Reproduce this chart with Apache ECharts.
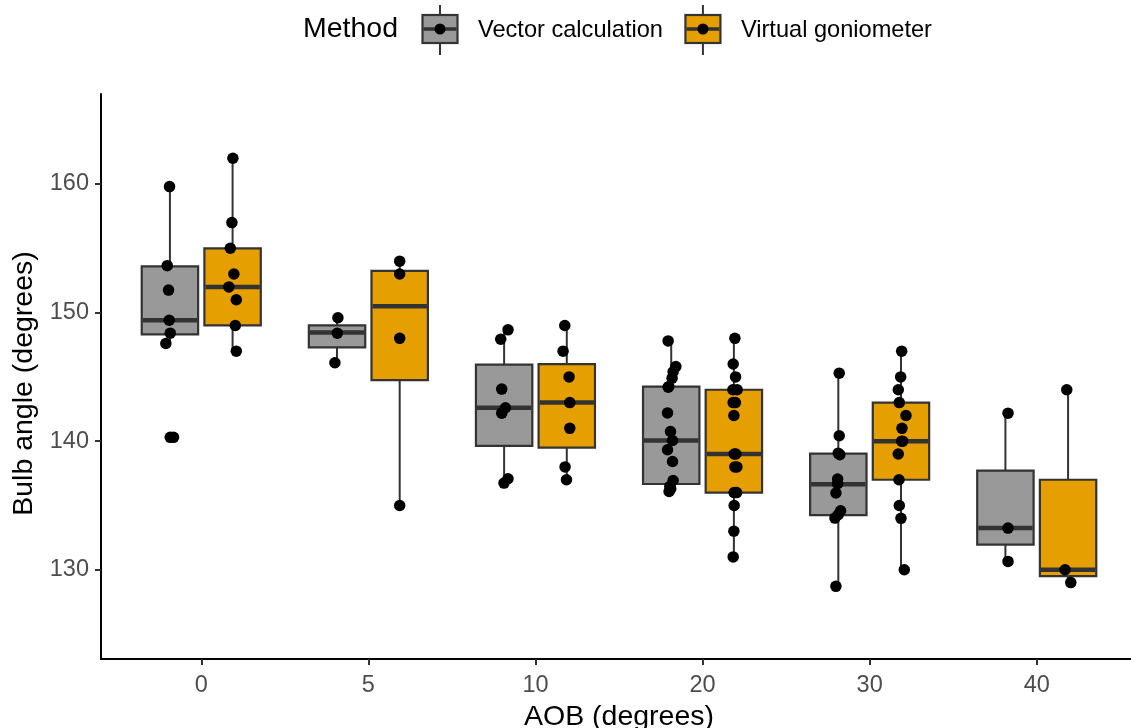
<!DOCTYPE html>
<html>
<head>
<meta charset="utf-8">
<script src="https://cdn.jsdelivr.net/npm/echarts@6/dist/echarts.min.js"></script>
<style>
  html, body { margin: 0; padding: 0; background: #fff; }
  #chart { width: 1131px; height: 728px; }
</style>
</head>
<body>
<div id="chart"></div>
<script>
var aobLabels = ['0', '5', '10', '20', '30', '40'];
var methods = ['Vector calculation', 'Virtual goniometer'];
var methodColors = ['#999999', '#E69F00'];
var yTicks = [130, 140, 150, 160];

// box stats per AOB group: [lower whisker, Q1, median, Q3, upper whisker]
var vectorBoxes = [
  [147.6, 148.3, 149.4, 153.6, 159.8],
  [146.1, 147.3, 148.45, 149.0, 149.6],
  [136.74, 139.64, 142.6, 145.96, 148.66],
  [136.09, 136.67, 140.05, 144.25, 147.8],
  [128.71, 134.25, 136.65, 139.03, 145.29],
  [130.65, 131.95, 133.24, 137.71, 142.18]
];
var virtualBoxes = [
  [147, 149, 152, 155, 162],
  [135, 144.75, 150.5, 153.25, 154],
  [137, 139.5, 143, 146, 149],
  [131, 136, 139, 144, 148],
  [130, 137, 140, 143, 147],
  [129, 129.5, 130, 137, 144]
];

// measured angles per AOB group
var vectorPoints = [
  [159.8, 153.65, 151.75, 149.4, 148.4, 147.6, 140.3, 140.3],
  [149.6, 148.4, 146.1],
  [148.66, 147.93, 144.05, 142.6, 142.18, 137.08, 136.74],
  [147.8, 145.8, 145.4, 144.9, 144.25, 144.2, 142.2, 140.75, 140.05, 139.33, 138.42, 136.94, 136.48, 136.3, 136.09],
  [145.29, 140.42, 139.07, 138.95, 137.05, 136.69, 135.97, 134.59, 134.28, 134.02, 128.71],
  [142.18, 133.24, 130.65]
];
var virtualPoints = [
  [162, 157, 155, 153, 152, 151, 149, 147],
  [154, 153, 148, 135],
  [149, 147, 145, 143, 141, 138, 137],
  [148, 146, 145, 144, 144, 143, 143, 142, 139, 139, 138, 138, 136, 136, 135, 133, 131],
  [147, 145, 144, 143, 142, 141, 140, 140, 139, 137, 135, 134, 130],
  [144, 130, 129]
];
// horizontal jitter of each point as seen (pixels)
var vectorJitter = [
  [-0.4, -2.7, -1.4, -0.7, 0.3, -4.1, 0.3, 3.6],
  [0.9, 0.3, -2.1],
  [3.9, -3.4, -2.4, 1.3, -2.4, 3.9, -0.1],
  [-3.1, 4.6, 1.9, 0.9, -2.4, -3.0, -3.7, -0.7, 1.3, -3.7, 1.3, 1.9, -1.4, -0.5, -2.1],
  [0.9, 0.9, -0.1, 1.5, -0.7, -0.7, -2.4, 2.3, -0.1, -3.4, -2.4],
  [2.6, 2.6, 2.6]
];
var virtualJitter = [
  [0.3, -0.7, -2.3, 1.3, -3.7, 3.7, 2.7, 3.7],
  [0, 0, 0, 0],
  [-2, -3.7, 2.3, 3, 3, -1.7, -0.3],
  [1, -0.7, 1.7, 3.3, -1, -0.7, 1.5, 0, 0.3, 2, 1, 3, 2.7, 0.3, 0.3, 0, -0.7],
  [0.7, -0.3, -2.7, -1.7, 5, 1, 0.7, 1.7, -2.7, -2, -1.7, 0, 3.3],
  [-1.3, -3, 2.7]
];

var dodge = 0.1875;      // box centre offset from group centre
var boxWidth = 0.3375;
var pxPerUnit = 167;
var offsets = [-dodge, dodge];

function boxData(boxes, m) {
  var out = [];
  for (var i = 0; i < boxes.length; i++) {
    out.push([i + offsets[m]].concat(boxes[i]).concat([m]));
  }
  return out;
}

function pointData(points, jitter, m) {
  var out = [];
  for (var i = 0; i < points.length; i++) {
    for (var j = 0; j < points[i].length; j++) {
      out.push([i + offsets[m] + jitter[i][j] / pxPerUnit, points[i][j]]);
    }
  }
  return out;
}

function renderBox(params, api) {
  var x = api.value(0);
  var lo = api.coord([x, api.value(1)]);
  var q1 = api.coord([x, api.value(2)]);
  var md = api.coord([x, api.value(3)]);
  var q3 = api.coord([x, api.value(4)]);
  var hi = api.coord([x, api.value(5)]);
  var half = api.size([boxWidth, 0])[0] / 2;
  var fill = methodColors[api.value(6)];
  var stroke = { stroke: '#333333', lineWidth: 2 };
  return {
    type: 'group',
    children: [
      { type: 'line', shape: { x1: hi[0], y1: hi[1], x2: q3[0], y2: q3[1] }, style: stroke },
      { type: 'line', shape: { x1: q1[0], y1: q1[1], x2: lo[0], y2: lo[1] }, style: stroke },
      { type: 'rect', shape: { x: q3[0] - half, y: q3[1], width: half * 2, height: q1[1] - q3[1] },
        style: { fill: fill, stroke: '#333333', lineWidth: 2.2 } },
      { type: 'line', shape: { x1: md[0] - half + 1, y1: md[1], x2: md[0] + half - 1, y2: md[1] },
        style: { stroke: '#333333', lineWidth: 4.5 } }
    ]
  };
}

function keyIcon(fill) {
  var svg = '<svg xmlns="http://www.w3.org/2000/svg" width="52" height="50" viewBox="0 0 52 50">' +
    '<line x1="19" y1="0" x2="19" y2="10" stroke="#333" stroke-width="2"/>' +
    '<line x1="19" y1="38" x2="19" y2="50" stroke="#333" stroke-width="2"/>' +
    '<rect x="1.5" y="10" width="35" height="28" fill="' + fill + '" stroke="#333" stroke-width="2.2"/>' +
    '<line x1="2.5" y1="24" x2="35.5" y2="24" stroke="#333" stroke-width="3.5"/>' +
    '<circle cx="19" cy="24" r="5.5" fill="#000"/>' +
    '</svg>';
  return 'image://data:image/svg+xml;charset=utf-8,' + encodeURIComponent(svg);
}

var font = '"Liberation Sans", Arial, Helvetica, sans-serif';
var chart = echarts.init(document.getElementById('chart'), null, { renderer: 'canvas' });

chart.setOption({
  animation: false,
  backgroundColor: '#ffffff',
  textStyle: { fontFamily: font },
  title: {
    text: 'Method',
    left: 298,
    top: 10,
    textStyle: { fontSize: 28.5, fontWeight: 'normal', color: '#000', fontFamily: font }
  },
  legend: {
    left: 416,
    top: 0,
    itemWidth: 52,
    itemHeight: 50,
    itemGap: 21,
    selectedMode: false,
    textStyle: { fontSize: 23.6, color: '#000', fontFamily: font },
    data: [
      { name: methods[0], icon: keyIcon(methodColors[0]) },
      { name: methods[1], icon: keyIcon(methodColors[1]) }
    ]
  },
  grid: { left: 101, right: -6, top: 94, bottom: 69, outerBoundsMode: 'none' },
  xAxis: {
    type: 'value',
    min: -0.6,
    max: 5.6,
    name: 'AOB (degrees)',
    nameLocation: 'middle',
    nameGap: 42,
    nameTextStyle: { fontSize: 28.5, color: '#000', fontFamily: font },
    axisLine: { show: true, onZero: false, lineStyle: { color: '#000', width: 2 } },
    axisTick: { show: true, length: 6, customValues: [0, 1, 2, 3, 4, 5], lineStyle: { color: '#333', width: 2 } },
    axisLabel: {
      customValues: [0, 1, 2, 3, 4, 5],
      margin: 15,
      fontSize: 23.5,
      color: '#4D4D4D',
      formatter: function (v) { return aobLabels[Math.round(v)]; }
    },
    splitLine: { show: false }
  },
  yAxis: {
    type: 'value',
    min: 123.06,
    max: 167.0,
    name: 'Bulb angle (degrees)',
    nameLocation: 'middle',
    nameGap: 58,
    nameTextStyle: { fontSize: 28.5, color: '#000', fontFamily: font, padding: [0, 14, 0, 0] },
    axisLine: { show: true, onZero: false, lineStyle: { color: '#000', width: 2 } },
    axisTick: { show: true, length: 6, customValues: yTicks, lineStyle: { color: '#333', width: 2 } },
    axisLabel: { customValues: yTicks, margin: 12, fontSize: 23.5, color: '#4D4D4D' },
    splitLine: { show: false }
  },
  series: [
    {
      name: methods[0],
      type: 'custom',
      renderItem: renderBox,
      itemStyle: { color: methodColors[0] },
      encode: { x: 0, y: [1, 2, 3, 4, 5] },
      data: boxData(vectorBoxes, 0),
      z: 2
    },
    {
      name: methods[1],
      type: 'custom',
      renderItem: renderBox,
      itemStyle: { color: methodColors[1] },
      encode: { x: 0, y: [1, 2, 3, 4, 5] },
      data: boxData(virtualBoxes, 1),
      z: 2
    },
    {
      name: 'vector points',
      type: 'scatter',
      symbolSize: 11.5,
      itemStyle: { color: '#000', opacity: 1 },
      data: pointData(vectorPoints, vectorJitter, 0),
      z: 3
    },
    {
      name: 'virtual points',
      type: 'scatter',
      symbolSize: 11.5,
      itemStyle: { color: '#000', opacity: 1 },
      data: pointData(virtualPoints, virtualJitter, 1),
      z: 3
    }
  ]
});
</script>
</body>
</html>
